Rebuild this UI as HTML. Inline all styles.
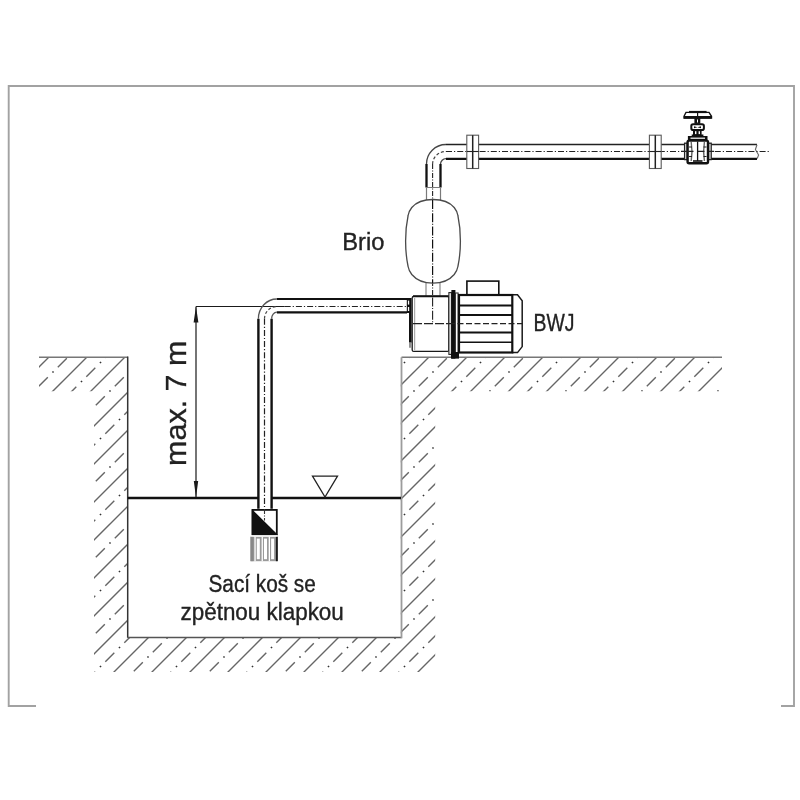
<!DOCTYPE html>
<html><head><meta charset="utf-8"><style>
html,body{margin:0;padding:0;background:#fff;width:800px;height:800px;overflow:hidden}
svg{position:absolute;left:0;top:0;will-change:transform}
.t{position:absolute;font-family:"Liberation Sans",sans-serif;color:#222;white-space:nowrap;line-height:1}
.c{text-align:center}
.rot{transform:translate(-50%,-50%) rotate(-90deg);}
</style></head><body>
<svg width="800" height="800" viewBox="0 0 800 800">
<clipPath id="hc"><rect x="39" y="357.5" width="88.7" height="33.69999999999999"/><rect x="94" y="357.5" width="33.7" height="314.5"/><rect x="94" y="637.7" width="341.2" height="34.299999999999955"/><rect x="400.8" y="357.5" width="34.39999999999998" height="314.5"/><rect x="400.8" y="357.5" width="321.2" height="33.69999999999999"/></clipPath>
<g clip-path="url(#hc)" stroke="#666" fill="none"><path d="M20,310L760,-430M20,348L760,-392M20,386L760,-354M20,424L760,-316M20,462L760,-278M20,500L760,-240M20,538L760,-202M20,576L760,-164M20,614L760,-126M20,652L760,-88M20,690L760,-50M20,728L760,-12M20,766L760,26M20,804L760,64M20,842L760,102M20,880L760,140M20,918L760,178M20,956L760,216M20,994L760,254M20,1032L760,292M20,1070L760,330M20,1108L760,368M20,1146L760,406M20,1184L760,444" stroke-width="1.4"/><path d="M38.80,310.20L47.80,301.20M57.80,291.20L66.80,282.20M76.80,272.20L85.80,263.20M95.80,253.20L104.80,244.20M114.80,234.20L123.80,225.20M133.80,215.20L142.80,206.20M152.80,196.20L161.80,187.20M171.80,177.20L180.80,168.20M190.80,158.20L199.80,149.20M209.80,139.20L218.80,130.20M228.80,120.20L237.80,111.20M247.80,101.20L256.80,92.20M266.80,82.20L275.80,73.20M285.80,63.20L294.80,54.20M304.80,44.20L313.80,35.20M323.80,25.20L332.80,16.20M342.80,6.20L351.80,-2.80M361.80,-12.80L370.80,-21.80M380.80,-31.80L389.80,-40.80M399.80,-50.80L408.80,-59.80M418.80,-69.80L427.80,-78.80M437.80,-88.80L446.80,-97.80M456.80,-107.80L465.80,-116.80M475.80,-126.80L484.80,-135.80M494.80,-145.80L503.80,-154.80M513.80,-164.80L522.80,-173.80M532.80,-183.80L541.80,-192.80M551.80,-202.80L560.80,-211.80M570.80,-221.80L579.80,-230.80M589.80,-240.80L598.80,-249.80M608.80,-259.80L617.80,-268.80M627.80,-278.80L636.80,-287.80M646.80,-297.80L655.80,-306.80M665.80,-316.80L674.80,-325.80M684.80,-335.80L693.80,-344.80M703.80,-354.80L712.80,-363.80M722.80,-373.80L731.80,-382.80M741.80,-392.80L750.80,-401.80M760.80,-411.80L769.80,-420.80M29.30,357.70L38.30,348.70M48.30,338.70L57.30,329.70M67.30,319.70L76.30,310.70M86.30,300.70L95.30,291.70M105.30,281.70L114.30,272.70M124.30,262.70L133.30,253.70M143.30,243.70L152.30,234.70M162.30,224.70L171.30,215.70M181.30,205.70L190.30,196.70M200.30,186.70L209.30,177.70M219.30,167.70L228.30,158.70M238.30,148.70L247.30,139.70M257.30,129.70L266.30,120.70M276.30,110.70L285.30,101.70M295.30,91.70L304.30,82.70M314.30,72.70L323.30,63.70M333.30,53.70L342.30,44.70M352.30,34.70L361.30,25.70M371.30,15.70L380.30,6.70M390.30,-3.30L399.30,-12.30M409.30,-22.30L418.30,-31.30M428.30,-41.30L437.30,-50.30M447.30,-60.30L456.30,-69.30M466.30,-79.30L475.30,-88.30M485.30,-98.30L494.30,-107.30M504.30,-117.30L513.30,-126.30M523.30,-136.30L532.30,-145.30M542.30,-155.30L551.30,-164.30M561.30,-174.30L570.30,-183.30M580.30,-193.30L589.30,-202.30M599.30,-212.30L608.30,-221.30M618.30,-231.30L627.30,-240.30M637.30,-250.30L646.30,-259.30M656.30,-269.30L665.30,-278.30M675.30,-288.30L684.30,-297.30M694.30,-307.30L703.30,-316.30M713.30,-326.30L722.30,-335.30M732.30,-345.30L741.30,-354.30M751.30,-364.30L760.30,-373.30M38.80,386.20L47.80,377.20M57.80,367.20L66.80,358.20M76.80,348.20L85.80,339.20M95.80,329.20L104.80,320.20M114.80,310.20L123.80,301.20M133.80,291.20L142.80,282.20M152.80,272.20L161.80,263.20M171.80,253.20L180.80,244.20M190.80,234.20L199.80,225.20M209.80,215.20L218.80,206.20M228.80,196.20L237.80,187.20M247.80,177.20L256.80,168.20M266.80,158.20L275.80,149.20M285.80,139.20L294.80,130.20M304.80,120.20L313.80,111.20M323.80,101.20L332.80,92.20M342.80,82.20L351.80,73.20M361.80,63.20L370.80,54.20M380.80,44.20L389.80,35.20M399.80,25.20L408.80,16.20M418.80,6.20L427.80,-2.80M437.80,-12.80L446.80,-21.80M456.80,-31.80L465.80,-40.80M475.80,-50.80L484.80,-59.80M494.80,-69.80L503.80,-78.80M513.80,-88.80L522.80,-97.80M532.80,-107.80L541.80,-116.80M551.80,-126.80L560.80,-135.80M570.80,-145.80L579.80,-154.80M589.80,-164.80L598.80,-173.80M608.80,-183.80L617.80,-192.80M627.80,-202.80L636.80,-211.80M646.80,-221.80L655.80,-230.80M665.80,-240.80L674.80,-249.80M684.80,-259.80L693.80,-268.80M703.80,-278.80L712.80,-287.80M722.80,-297.80L731.80,-306.80M741.80,-316.80L750.80,-325.80M760.80,-335.80L769.80,-344.80M29.30,433.70L38.30,424.70M48.30,414.70L57.30,405.70M67.30,395.70L76.30,386.70M86.30,376.70L95.30,367.70M105.30,357.70L114.30,348.70M124.30,338.70L133.30,329.70M143.30,319.70L152.30,310.70M162.30,300.70L171.30,291.70M181.30,281.70L190.30,272.70M200.30,262.70L209.30,253.70M219.30,243.70L228.30,234.70M238.30,224.70L247.30,215.70M257.30,205.70L266.30,196.70M276.30,186.70L285.30,177.70M295.30,167.70L304.30,158.70M314.30,148.70L323.30,139.70M333.30,129.70L342.30,120.70M352.30,110.70L361.30,101.70M371.30,91.70L380.30,82.70M390.30,72.70L399.30,63.70M409.30,53.70L418.30,44.70M428.30,34.70L437.30,25.70M447.30,15.70L456.30,6.70M466.30,-3.30L475.30,-12.30M485.30,-22.30L494.30,-31.30M504.30,-41.30L513.30,-50.30M523.30,-60.30L532.30,-69.30M542.30,-79.30L551.30,-88.30M561.30,-98.30L570.30,-107.30M580.30,-117.30L589.30,-126.30M599.30,-136.30L608.30,-145.30M618.30,-155.30L627.30,-164.30M637.30,-174.30L646.30,-183.30M656.30,-193.30L665.30,-202.30M675.30,-212.30L684.30,-221.30M694.30,-231.30L703.30,-240.30M713.30,-250.30L722.30,-259.30M732.30,-269.30L741.30,-278.30M751.30,-288.30L760.30,-297.30M38.80,462.20L47.80,453.20M57.80,443.20L66.80,434.20M76.80,424.20L85.80,415.20M95.80,405.20L104.80,396.20M114.80,386.20L123.80,377.20M133.80,367.20L142.80,358.20M152.80,348.20L161.80,339.20M171.80,329.20L180.80,320.20M190.80,310.20L199.80,301.20M209.80,291.20L218.80,282.20M228.80,272.20L237.80,263.20M247.80,253.20L256.80,244.20M266.80,234.20L275.80,225.20M285.80,215.20L294.80,206.20M304.80,196.20L313.80,187.20M323.80,177.20L332.80,168.20M342.80,158.20L351.80,149.20M361.80,139.20L370.80,130.20M380.80,120.20L389.80,111.20M399.80,101.20L408.80,92.20M418.80,82.20L427.80,73.20M437.80,63.20L446.80,54.20M456.80,44.20L465.80,35.20M475.80,25.20L484.80,16.20M494.80,6.20L503.80,-2.80M513.80,-12.80L522.80,-21.80M532.80,-31.80L541.80,-40.80M551.80,-50.80L560.80,-59.80M570.80,-69.80L579.80,-78.80M589.80,-88.80L598.80,-97.80M608.80,-107.80L617.80,-116.80M627.80,-126.80L636.80,-135.80M646.80,-145.80L655.80,-154.80M665.80,-164.80L674.80,-173.80M684.80,-183.80L693.80,-192.80M703.80,-202.80L712.80,-211.80M722.80,-221.80L731.80,-230.80M741.80,-240.80L750.80,-249.80M760.80,-259.80L769.80,-268.80M29.30,509.70L38.30,500.70M48.30,490.70L57.30,481.70M67.30,471.70L76.30,462.70M86.30,452.70L95.30,443.70M105.30,433.70L114.30,424.70M124.30,414.70L133.30,405.70M143.30,395.70L152.30,386.70M162.30,376.70L171.30,367.70M181.30,357.70L190.30,348.70M200.30,338.70L209.30,329.70M219.30,319.70L228.30,310.70M238.30,300.70L247.30,291.70M257.30,281.70L266.30,272.70M276.30,262.70L285.30,253.70M295.30,243.70L304.30,234.70M314.30,224.70L323.30,215.70M333.30,205.70L342.30,196.70M352.30,186.70L361.30,177.70M371.30,167.70L380.30,158.70M390.30,148.70L399.30,139.70M409.30,129.70L418.30,120.70M428.30,110.70L437.30,101.70M447.30,91.70L456.30,82.70M466.30,72.70L475.30,63.70M485.30,53.70L494.30,44.70M504.30,34.70L513.30,25.70M523.30,15.70L532.30,6.70M542.30,-3.30L551.30,-12.30M561.30,-22.30L570.30,-31.30M580.30,-41.30L589.30,-50.30M599.30,-60.30L608.30,-69.30M618.30,-79.30L627.30,-88.30M637.30,-98.30L646.30,-107.30M656.30,-117.30L665.30,-126.30M675.30,-136.30L684.30,-145.30M694.30,-155.30L703.30,-164.30M713.30,-174.30L722.30,-183.30M732.30,-193.30L741.30,-202.30M751.30,-212.30L760.30,-221.30M38.80,538.20L47.80,529.20M57.80,519.20L66.80,510.20M76.80,500.20L85.80,491.20M95.80,481.20L104.80,472.20M114.80,462.20L123.80,453.20M133.80,443.20L142.80,434.20M152.80,424.20L161.80,415.20M171.80,405.20L180.80,396.20M190.80,386.20L199.80,377.20M209.80,367.20L218.80,358.20M228.80,348.20L237.80,339.20M247.80,329.20L256.80,320.20M266.80,310.20L275.80,301.20M285.80,291.20L294.80,282.20M304.80,272.20L313.80,263.20M323.80,253.20L332.80,244.20M342.80,234.20L351.80,225.20M361.80,215.20L370.80,206.20M380.80,196.20L389.80,187.20M399.80,177.20L408.80,168.20M418.80,158.20L427.80,149.20M437.80,139.20L446.80,130.20M456.80,120.20L465.80,111.20M475.80,101.20L484.80,92.20M494.80,82.20L503.80,73.20M513.80,63.20L522.80,54.20M532.80,44.20L541.80,35.20M551.80,25.20L560.80,16.20M570.80,6.20L579.80,-2.80M589.80,-12.80L598.80,-21.80M608.80,-31.80L617.80,-40.80M627.80,-50.80L636.80,-59.80M646.80,-69.80L655.80,-78.80M665.80,-88.80L674.80,-97.80M684.80,-107.80L693.80,-116.80M703.80,-126.80L712.80,-135.80M722.80,-145.80L731.80,-154.80M741.80,-164.80L750.80,-173.80M760.80,-183.80L769.80,-192.80M29.30,585.70L38.30,576.70M48.30,566.70L57.30,557.70M67.30,547.70L76.30,538.70M86.30,528.70L95.30,519.70M105.30,509.70L114.30,500.70M124.30,490.70L133.30,481.70M143.30,471.70L152.30,462.70M162.30,452.70L171.30,443.70M181.30,433.70L190.30,424.70M200.30,414.70L209.30,405.70M219.30,395.70L228.30,386.70M238.30,376.70L247.30,367.70M257.30,357.70L266.30,348.70M276.30,338.70L285.30,329.70M295.30,319.70L304.30,310.70M314.30,300.70L323.30,291.70M333.30,281.70L342.30,272.70M352.30,262.70L361.30,253.70M371.30,243.70L380.30,234.70M390.30,224.70L399.30,215.70M409.30,205.70L418.30,196.70M428.30,186.70L437.30,177.70M447.30,167.70L456.30,158.70M466.30,148.70L475.30,139.70M485.30,129.70L494.30,120.70M504.30,110.70L513.30,101.70M523.30,91.70L532.30,82.70M542.30,72.70L551.30,63.70M561.30,53.70L570.30,44.70M580.30,34.70L589.30,25.70M599.30,15.70L608.30,6.70M618.30,-3.30L627.30,-12.30M637.30,-22.30L646.30,-31.30M656.30,-41.30L665.30,-50.30M675.30,-60.30L684.30,-69.30M694.30,-79.30L703.30,-88.30M713.30,-98.30L722.30,-107.30M732.30,-117.30L741.30,-126.30M751.30,-136.30L760.30,-145.30M38.80,614.20L47.80,605.20M57.80,595.20L66.80,586.20M76.80,576.20L85.80,567.20M95.80,557.20L104.80,548.20M114.80,538.20L123.80,529.20M133.80,519.20L142.80,510.20M152.80,500.20L161.80,491.20M171.80,481.20L180.80,472.20M190.80,462.20L199.80,453.20M209.80,443.20L218.80,434.20M228.80,424.20L237.80,415.20M247.80,405.20L256.80,396.20M266.80,386.20L275.80,377.20M285.80,367.20L294.80,358.20M304.80,348.20L313.80,339.20M323.80,329.20L332.80,320.20M342.80,310.20L351.80,301.20M361.80,291.20L370.80,282.20M380.80,272.20L389.80,263.20M399.80,253.20L408.80,244.20M418.80,234.20L427.80,225.20M437.80,215.20L446.80,206.20M456.80,196.20L465.80,187.20M475.80,177.20L484.80,168.20M494.80,158.20L503.80,149.20M513.80,139.20L522.80,130.20M532.80,120.20L541.80,111.20M551.80,101.20L560.80,92.20M570.80,82.20L579.80,73.20M589.80,63.20L598.80,54.20M608.80,44.20L617.80,35.20M627.80,25.20L636.80,16.20M646.80,6.20L655.80,-2.80M665.80,-12.80L674.80,-21.80M684.80,-31.80L693.80,-40.80M703.80,-50.80L712.80,-59.80M722.80,-69.80L731.80,-78.80M741.80,-88.80L750.80,-97.80M760.80,-107.80L769.80,-116.80M29.30,661.70L38.30,652.70M48.30,642.70L57.30,633.70M67.30,623.70L76.30,614.70M86.30,604.70L95.30,595.70M105.30,585.70L114.30,576.70M124.30,566.70L133.30,557.70M143.30,547.70L152.30,538.70M162.30,528.70L171.30,519.70M181.30,509.70L190.30,500.70M200.30,490.70L209.30,481.70M219.30,471.70L228.30,462.70M238.30,452.70L247.30,443.70M257.30,433.70L266.30,424.70M276.30,414.70L285.30,405.70M295.30,395.70L304.30,386.70M314.30,376.70L323.30,367.70M333.30,357.70L342.30,348.70M352.30,338.70L361.30,329.70M371.30,319.70L380.30,310.70M390.30,300.70L399.30,291.70M409.30,281.70L418.30,272.70M428.30,262.70L437.30,253.70M447.30,243.70L456.30,234.70M466.30,224.70L475.30,215.70M485.30,205.70L494.30,196.70M504.30,186.70L513.30,177.70M523.30,167.70L532.30,158.70M542.30,148.70L551.30,139.70M561.30,129.70L570.30,120.70M580.30,110.70L589.30,101.70M599.30,91.70L608.30,82.70M618.30,72.70L627.30,63.70M637.30,53.70L646.30,44.70M656.30,34.70L665.30,25.70M675.30,15.70L684.30,6.70M694.30,-3.30L703.30,-12.30M713.30,-22.30L722.30,-31.30M732.30,-41.30L741.30,-50.30M751.30,-60.30L760.30,-69.30M38.80,690.20L47.80,681.20M57.80,671.20L66.80,662.20M76.80,652.20L85.80,643.20M95.80,633.20L104.80,624.20M114.80,614.20L123.80,605.20M133.80,595.20L142.80,586.20M152.80,576.20L161.80,567.20M171.80,557.20L180.80,548.20M190.80,538.20L199.80,529.20M209.80,519.20L218.80,510.20M228.80,500.20L237.80,491.20M247.80,481.20L256.80,472.20M266.80,462.20L275.80,453.20M285.80,443.20L294.80,434.20M304.80,424.20L313.80,415.20M323.80,405.20L332.80,396.20M342.80,386.20L351.80,377.20M361.80,367.20L370.80,358.20M380.80,348.20L389.80,339.20M399.80,329.20L408.80,320.20M418.80,310.20L427.80,301.20M437.80,291.20L446.80,282.20M456.80,272.20L465.80,263.20M475.80,253.20L484.80,244.20M494.80,234.20L503.80,225.20M513.80,215.20L522.80,206.20M532.80,196.20L541.80,187.20M551.80,177.20L560.80,168.20M570.80,158.20L579.80,149.20M589.80,139.20L598.80,130.20M608.80,120.20L617.80,111.20M627.80,101.20L636.80,92.20M646.80,82.20L655.80,73.20M665.80,63.20L674.80,54.20M684.80,44.20L693.80,35.20M703.80,25.20L712.80,16.20M722.80,6.20L731.80,-2.80M741.80,-12.80L750.80,-21.80M760.80,-31.80L769.80,-40.80M29.30,737.70L38.30,728.70M48.30,718.70L57.30,709.70M67.30,699.70L76.30,690.70M86.30,680.70L95.30,671.70M105.30,661.70L114.30,652.70M124.30,642.70L133.30,633.70M143.30,623.70L152.30,614.70M162.30,604.70L171.30,595.70M181.30,585.70L190.30,576.70M200.30,566.70L209.30,557.70M219.30,547.70L228.30,538.70M238.30,528.70L247.30,519.70M257.30,509.70L266.30,500.70M276.30,490.70L285.30,481.70M295.30,471.70L304.30,462.70M314.30,452.70L323.30,443.70M333.30,433.70L342.30,424.70M352.30,414.70L361.30,405.70M371.30,395.70L380.30,386.70M390.30,376.70L399.30,367.70M409.30,357.70L418.30,348.70M428.30,338.70L437.30,329.70M447.30,319.70L456.30,310.70M466.30,300.70L475.30,291.70M485.30,281.70L494.30,272.70M504.30,262.70L513.30,253.70M523.30,243.70L532.30,234.70M542.30,224.70L551.30,215.70M561.30,205.70L570.30,196.70M580.30,186.70L589.30,177.70M599.30,167.70L608.30,158.70M618.30,148.70L627.30,139.70M637.30,129.70L646.30,120.70M656.30,110.70L665.30,101.70M675.30,91.70L684.30,82.70M694.30,72.70L703.30,63.70M713.30,53.70L722.30,44.70M732.30,34.70L741.30,25.70M751.30,15.70L760.30,6.70M38.80,766.20L47.80,757.20M57.80,747.20L66.80,738.20M76.80,728.20L85.80,719.20M95.80,709.20L104.80,700.20M114.80,690.20L123.80,681.20M133.80,671.20L142.80,662.20M152.80,652.20L161.80,643.20M171.80,633.20L180.80,624.20M190.80,614.20L199.80,605.20M209.80,595.20L218.80,586.20M228.80,576.20L237.80,567.20M247.80,557.20L256.80,548.20M266.80,538.20L275.80,529.20M285.80,519.20L294.80,510.20M304.80,500.20L313.80,491.20M323.80,481.20L332.80,472.20M342.80,462.20L351.80,453.20M361.80,443.20L370.80,434.20M380.80,424.20L389.80,415.20M399.80,405.20L408.80,396.20M418.80,386.20L427.80,377.20M437.80,367.20L446.80,358.20M456.80,348.20L465.80,339.20M475.80,329.20L484.80,320.20M494.80,310.20L503.80,301.20M513.80,291.20L522.80,282.20M532.80,272.20L541.80,263.20M551.80,253.20L560.80,244.20M570.80,234.20L579.80,225.20M589.80,215.20L598.80,206.20M608.80,196.20L617.80,187.20M627.80,177.20L636.80,168.20M646.80,158.20L655.80,149.20M665.80,139.20L674.80,130.20M684.80,120.20L693.80,111.20M703.80,101.20L712.80,92.20M722.80,82.20L731.80,73.20M741.80,63.20L750.80,54.20M760.80,44.20L769.80,35.20M29.30,813.70L38.30,804.70M48.30,794.70L57.30,785.70M67.30,775.70L76.30,766.70M86.30,756.70L95.30,747.70M105.30,737.70L114.30,728.70M124.30,718.70L133.30,709.70M143.30,699.70L152.30,690.70M162.30,680.70L171.30,671.70M181.30,661.70L190.30,652.70M200.30,642.70L209.30,633.70M219.30,623.70L228.30,614.70M238.30,604.70L247.30,595.70M257.30,585.70L266.30,576.70M276.30,566.70L285.30,557.70M295.30,547.70L304.30,538.70M314.30,528.70L323.30,519.70M333.30,509.70L342.30,500.70M352.30,490.70L361.30,481.70M371.30,471.70L380.30,462.70M390.30,452.70L399.30,443.70M409.30,433.70L418.30,424.70M428.30,414.70L437.30,405.70M447.30,395.70L456.30,386.70M466.30,376.70L475.30,367.70M485.30,357.70L494.30,348.70M504.30,338.70L513.30,329.70M523.30,319.70L532.30,310.70M542.30,300.70L551.30,291.70M561.30,281.70L570.30,272.70M580.30,262.70L589.30,253.70M599.30,243.70L608.30,234.70M618.30,224.70L627.30,215.70M637.30,205.70L646.30,196.70M656.30,186.70L665.30,177.70M675.30,167.70L684.30,158.70M694.30,148.70L703.30,139.70M713.30,129.70L722.30,120.70M732.30,110.70L741.30,101.70M751.30,91.70L760.30,82.70M38.80,842.20L47.80,833.20M57.80,823.20L66.80,814.20M76.80,804.20L85.80,795.20M95.80,785.20L104.80,776.20M114.80,766.20L123.80,757.20M133.80,747.20L142.80,738.20M152.80,728.20L161.80,719.20M171.80,709.20L180.80,700.20M190.80,690.20L199.80,681.20M209.80,671.20L218.80,662.20M228.80,652.20L237.80,643.20M247.80,633.20L256.80,624.20M266.80,614.20L275.80,605.20M285.80,595.20L294.80,586.20M304.80,576.20L313.80,567.20M323.80,557.20L332.80,548.20M342.80,538.20L351.80,529.20M361.80,519.20L370.80,510.20M380.80,500.20L389.80,491.20M399.80,481.20L408.80,472.20M418.80,462.20L427.80,453.20M437.80,443.20L446.80,434.20M456.80,424.20L465.80,415.20M475.80,405.20L484.80,396.20M494.80,386.20L503.80,377.20M513.80,367.20L522.80,358.20M532.80,348.20L541.80,339.20M551.80,329.20L560.80,320.20M570.80,310.20L579.80,301.20M589.80,291.20L598.80,282.20M608.80,272.20L617.80,263.20M627.80,253.20L636.80,244.20M646.80,234.20L655.80,225.20M665.80,215.20L674.80,206.20M684.80,196.20L693.80,187.20M703.80,177.20L712.80,168.20M722.80,158.20L731.80,149.20M741.80,139.20L750.80,130.20M760.80,120.20L769.80,111.20M29.30,889.70L38.30,880.70M48.30,870.70L57.30,861.70M67.30,851.70L76.30,842.70M86.30,832.70L95.30,823.70M105.30,813.70L114.30,804.70M124.30,794.70L133.30,785.70M143.30,775.70L152.30,766.70M162.30,756.70L171.30,747.70M181.30,737.70L190.30,728.70M200.30,718.70L209.30,709.70M219.30,699.70L228.30,690.70M238.30,680.70L247.30,671.70M257.30,661.70L266.30,652.70M276.30,642.70L285.30,633.70M295.30,623.70L304.30,614.70M314.30,604.70L323.30,595.70M333.30,585.70L342.30,576.70M352.30,566.70L361.30,557.70M371.30,547.70L380.30,538.70M390.30,528.70L399.30,519.70M409.30,509.70L418.30,500.70M428.30,490.70L437.30,481.70M447.30,471.70L456.30,462.70M466.30,452.70L475.30,443.70M485.30,433.70L494.30,424.70M504.30,414.70L513.30,405.70M523.30,395.70L532.30,386.70M542.30,376.70L551.30,367.70M561.30,357.70L570.30,348.70M580.30,338.70L589.30,329.70M599.30,319.70L608.30,310.70M618.30,300.70L627.30,291.70M637.30,281.70L646.30,272.70M656.30,262.70L665.30,253.70M675.30,243.70L684.30,234.70M694.30,224.70L703.30,215.70M713.30,205.70L722.30,196.70M732.30,186.70L741.30,177.70M751.30,167.70L760.30,158.70M38.80,918.20L47.80,909.20M57.80,899.20L66.80,890.20M76.80,880.20L85.80,871.20M95.80,861.20L104.80,852.20M114.80,842.20L123.80,833.20M133.80,823.20L142.80,814.20M152.80,804.20L161.80,795.20M171.80,785.20L180.80,776.20M190.80,766.20L199.80,757.20M209.80,747.20L218.80,738.20M228.80,728.20L237.80,719.20M247.80,709.20L256.80,700.20M266.80,690.20L275.80,681.20M285.80,671.20L294.80,662.20M304.80,652.20L313.80,643.20M323.80,633.20L332.80,624.20M342.80,614.20L351.80,605.20M361.80,595.20L370.80,586.20M380.80,576.20L389.80,567.20M399.80,557.20L408.80,548.20M418.80,538.20L427.80,529.20M437.80,519.20L446.80,510.20M456.80,500.20L465.80,491.20M475.80,481.20L484.80,472.20M494.80,462.20L503.80,453.20M513.80,443.20L522.80,434.20M532.80,424.20L541.80,415.20M551.80,405.20L560.80,396.20M570.80,386.20L579.80,377.20M589.80,367.20L598.80,358.20M608.80,348.20L617.80,339.20M627.80,329.20L636.80,320.20M646.80,310.20L655.80,301.20M665.80,291.20L674.80,282.20M684.80,272.20L693.80,263.20M703.80,253.20L712.80,244.20M722.80,234.20L731.80,225.20M741.80,215.20L750.80,206.20M760.80,196.20L769.80,187.20M29.30,965.70L38.30,956.70M48.30,946.70L57.30,937.70M67.30,927.70L76.30,918.70M86.30,908.70L95.30,899.70M105.30,889.70L114.30,880.70M124.30,870.70L133.30,861.70M143.30,851.70L152.30,842.70M162.30,832.70L171.30,823.70M181.30,813.70L190.30,804.70M200.30,794.70L209.30,785.70M219.30,775.70L228.30,766.70M238.30,756.70L247.30,747.70M257.30,737.70L266.30,728.70M276.30,718.70L285.30,709.70M295.30,699.70L304.30,690.70M314.30,680.70L323.30,671.70M333.30,661.70L342.30,652.70M352.30,642.70L361.30,633.70M371.30,623.70L380.30,614.70M390.30,604.70L399.30,595.70M409.30,585.70L418.30,576.70M428.30,566.70L437.30,557.70M447.30,547.70L456.30,538.70M466.30,528.70L475.30,519.70M485.30,509.70L494.30,500.70M504.30,490.70L513.30,481.70M523.30,471.70L532.30,462.70M542.30,452.70L551.30,443.70M561.30,433.70L570.30,424.70M580.30,414.70L589.30,405.70M599.30,395.70L608.30,386.70M618.30,376.70L627.30,367.70M637.30,357.70L646.30,348.70M656.30,338.70L665.30,329.70M675.30,319.70L684.30,310.70M694.30,300.70L703.30,291.70M713.30,281.70L722.30,272.70M732.30,262.70L741.30,253.70M751.30,243.70L760.30,234.70M38.80,994.20L47.80,985.20M57.80,975.20L66.80,966.20M76.80,956.20L85.80,947.20M95.80,937.20L104.80,928.20M114.80,918.20L123.80,909.20M133.80,899.20L142.80,890.20M152.80,880.20L161.80,871.20M171.80,861.20L180.80,852.20M190.80,842.20L199.80,833.20M209.80,823.20L218.80,814.20M228.80,804.20L237.80,795.20M247.80,785.20L256.80,776.20M266.80,766.20L275.80,757.20M285.80,747.20L294.80,738.20M304.80,728.20L313.80,719.20M323.80,709.20L332.80,700.20M342.80,690.20L351.80,681.20M361.80,671.20L370.80,662.20M380.80,652.20L389.80,643.20M399.80,633.20L408.80,624.20M418.80,614.20L427.80,605.20M437.80,595.20L446.80,586.20M456.80,576.20L465.80,567.20M475.80,557.20L484.80,548.20M494.80,538.20L503.80,529.20M513.80,519.20L522.80,510.20M532.80,500.20L541.80,491.20M551.80,481.20L560.80,472.20M570.80,462.20L579.80,453.20M589.80,443.20L598.80,434.20M608.80,424.20L617.80,415.20M627.80,405.20L636.80,396.20M646.80,386.20L655.80,377.20M665.80,367.20L674.80,358.20M684.80,348.20L693.80,339.20M703.80,329.20L712.80,320.20M722.80,310.20L731.80,301.20M741.80,291.20L750.80,282.20M760.80,272.20L769.80,263.20M29.30,1041.70L38.30,1032.70M48.30,1022.70L57.30,1013.70M67.30,1003.70L76.30,994.70M86.30,984.70L95.30,975.70M105.30,965.70L114.30,956.70M124.30,946.70L133.30,937.70M143.30,927.70L152.30,918.70M162.30,908.70L171.30,899.70M181.30,889.70L190.30,880.70M200.30,870.70L209.30,861.70M219.30,851.70L228.30,842.70M238.30,832.70L247.30,823.70M257.30,813.70L266.30,804.70M276.30,794.70L285.30,785.70M295.30,775.70L304.30,766.70M314.30,756.70L323.30,747.70M333.30,737.70L342.30,728.70M352.30,718.70L361.30,709.70M371.30,699.70L380.30,690.70M390.30,680.70L399.30,671.70M409.30,661.70L418.30,652.70M428.30,642.70L437.30,633.70M447.30,623.70L456.30,614.70M466.30,604.70L475.30,595.70M485.30,585.70L494.30,576.70M504.30,566.70L513.30,557.70M523.30,547.70L532.30,538.70M542.30,528.70L551.30,519.70M561.30,509.70L570.30,500.70M580.30,490.70L589.30,481.70M599.30,471.70L608.30,462.70M618.30,452.70L627.30,443.70M637.30,433.70L646.30,424.70M656.30,414.70L665.30,405.70M675.30,395.70L684.30,386.70M694.30,376.70L703.30,367.70M713.30,357.70L722.30,348.70M732.30,338.70L741.30,329.70M751.30,319.70L760.30,310.70M38.80,1070.20L47.80,1061.20M57.80,1051.20L66.80,1042.20M76.80,1032.20L85.80,1023.20M95.80,1013.20L104.80,1004.20M114.80,994.20L123.80,985.20M133.80,975.20L142.80,966.20M152.80,956.20L161.80,947.20M171.80,937.20L180.80,928.20M190.80,918.20L199.80,909.20M209.80,899.20L218.80,890.20M228.80,880.20L237.80,871.20M247.80,861.20L256.80,852.20M266.80,842.20L275.80,833.20M285.80,823.20L294.80,814.20M304.80,804.20L313.80,795.20M323.80,785.20L332.80,776.20M342.80,766.20L351.80,757.20M361.80,747.20L370.80,738.20M380.80,728.20L389.80,719.20M399.80,709.20L408.80,700.20M418.80,690.20L427.80,681.20M437.80,671.20L446.80,662.20M456.80,652.20L465.80,643.20M475.80,633.20L484.80,624.20M494.80,614.20L503.80,605.20M513.80,595.20L522.80,586.20M532.80,576.20L541.80,567.20M551.80,557.20L560.80,548.20M570.80,538.20L579.80,529.20M589.80,519.20L598.80,510.20M608.80,500.20L617.80,491.20M627.80,481.20L636.80,472.20M646.80,462.20L655.80,453.20M665.80,443.20L674.80,434.20M684.80,424.20L693.80,415.20M703.80,405.20L712.80,396.20M722.80,386.20L731.80,377.20M741.80,367.20L750.80,358.20M760.80,348.20L769.80,339.20M29.30,1117.70L38.30,1108.70M48.30,1098.70L57.30,1089.70M67.30,1079.70L76.30,1070.70M86.30,1060.70L95.30,1051.70M105.30,1041.70L114.30,1032.70M124.30,1022.70L133.30,1013.70M143.30,1003.70L152.30,994.70M162.30,984.70L171.30,975.70M181.30,965.70L190.30,956.70M200.30,946.70L209.30,937.70M219.30,927.70L228.30,918.70M238.30,908.70L247.30,899.70M257.30,889.70L266.30,880.70M276.30,870.70L285.30,861.70M295.30,851.70L304.30,842.70M314.30,832.70L323.30,823.70M333.30,813.70L342.30,804.70M352.30,794.70L361.30,785.70M371.30,775.70L380.30,766.70M390.30,756.70L399.30,747.70M409.30,737.70L418.30,728.70M428.30,718.70L437.30,709.70M447.30,699.70L456.30,690.70M466.30,680.70L475.30,671.70M485.30,661.70L494.30,652.70M504.30,642.70L513.30,633.70M523.30,623.70L532.30,614.70M542.30,604.70L551.30,595.70M561.30,585.70L570.30,576.70M580.30,566.70L589.30,557.70M599.30,547.70L608.30,538.70M618.30,528.70L627.30,519.70M637.30,509.70L646.30,500.70M656.30,490.70L665.30,481.70M675.30,471.70L684.30,462.70M694.30,452.70L703.30,443.70M713.30,433.70L722.30,424.70M732.30,414.70L741.30,405.70M751.30,395.70L760.30,386.70M38.80,1146.20L47.80,1137.20M57.80,1127.20L66.80,1118.20M76.80,1108.20L85.80,1099.20M95.80,1089.20L104.80,1080.20M114.80,1070.20L123.80,1061.20M133.80,1051.20L142.80,1042.20M152.80,1032.20L161.80,1023.20M171.80,1013.20L180.80,1004.20M190.80,994.20L199.80,985.20M209.80,975.20L218.80,966.20M228.80,956.20L237.80,947.20M247.80,937.20L256.80,928.20M266.80,918.20L275.80,909.20M285.80,899.20L294.80,890.20M304.80,880.20L313.80,871.20M323.80,861.20L332.80,852.20M342.80,842.20L351.80,833.20M361.80,823.20L370.80,814.20M380.80,804.20L389.80,795.20M399.80,785.20L408.80,776.20M418.80,766.20L427.80,757.20M437.80,747.20L446.80,738.20M456.80,728.20L465.80,719.20M475.80,709.20L484.80,700.20M494.80,690.20L503.80,681.20M513.80,671.20L522.80,662.20M532.80,652.20L541.80,643.20M551.80,633.20L560.80,624.20M570.80,614.20L579.80,605.20M589.80,595.20L598.80,586.20M608.80,576.20L617.80,567.20M627.80,557.20L636.80,548.20M646.80,538.20L655.80,529.20M665.80,519.20L674.80,510.20M684.80,500.20L693.80,491.20M703.80,481.20L712.80,472.20M722.80,462.20L731.80,453.20M741.80,443.20L750.80,434.20M760.80,424.20L769.80,415.20M29.30,1193.70L38.30,1184.70M48.30,1174.70L57.30,1165.70M67.30,1155.70L76.30,1146.70M86.30,1136.70L95.30,1127.70M105.30,1117.70L114.30,1108.70M124.30,1098.70L133.30,1089.70M143.30,1079.70L152.30,1070.70M162.30,1060.70L171.30,1051.70M181.30,1041.70L190.30,1032.70M200.30,1022.70L209.30,1013.70M219.30,1003.70L228.30,994.70M238.30,984.70L247.30,975.70M257.30,965.70L266.30,956.70M276.30,946.70L285.30,937.70M295.30,927.70L304.30,918.70M314.30,908.70L323.30,899.70M333.30,889.70L342.30,880.70M352.30,870.70L361.30,861.70M371.30,851.70L380.30,842.70M390.30,832.70L399.30,823.70M409.30,813.70L418.30,804.70M428.30,794.70L437.30,785.70M447.30,775.70L456.30,766.70M466.30,756.70L475.30,747.70M485.30,737.70L494.30,728.70M504.30,718.70L513.30,709.70M523.30,699.70L532.30,690.70M542.30,680.70L551.30,671.70M561.30,661.70L570.30,652.70M580.30,642.70L589.30,633.70M599.30,623.70L608.30,614.70M618.30,604.70L627.30,595.70M637.30,585.70L646.30,576.70M656.30,566.70L665.30,557.70M675.30,547.70L684.30,538.70M694.30,528.70L703.30,519.70M713.30,509.70L722.30,500.70M732.30,490.70L741.30,481.70M751.30,471.70L760.30,462.70" stroke-width="1.4"/><path d="M33.45,315.55L34.55,314.45M52.45,296.55L53.55,295.45M71.45,277.55L72.55,276.45M90.45,258.55L91.55,257.45M109.45,239.55L110.55,238.45M128.45,220.55L129.55,219.45M147.45,201.55L148.55,200.45M166.45,182.55L167.55,181.45M185.45,163.55L186.55,162.45M204.45,144.55L205.55,143.45M223.45,125.55L224.55,124.45M242.45,106.55L243.55,105.45M261.45,87.55L262.55,86.45M280.45,68.55L281.55,67.45M299.45,49.55L300.55,48.45M318.45,30.55L319.55,29.45M337.45,11.55L338.55,10.45M356.45,-7.45L357.55,-8.55M375.45,-26.45L376.55,-27.55M394.45,-45.45L395.55,-46.55M413.45,-64.45L414.55,-65.55M432.45,-83.45L433.55,-84.55M451.45,-102.45L452.55,-103.55M470.45,-121.45L471.55,-122.55M489.45,-140.45L490.55,-141.55M508.45,-159.45L509.55,-160.55M527.45,-178.45L528.55,-179.55M546.45,-197.45L547.55,-198.55M565.45,-216.45L566.55,-217.55M584.45,-235.45L585.55,-236.55M603.45,-254.45L604.55,-255.55M622.45,-273.45L623.55,-274.55M641.45,-292.45L642.55,-293.55M660.45,-311.45L661.55,-312.55M679.45,-330.45L680.55,-331.55M698.45,-349.45L699.55,-350.55M717.45,-368.45L718.55,-369.55M736.45,-387.45L737.55,-388.55M755.45,-406.45L756.55,-407.55M23.95,363.05L25.05,361.95M42.95,344.05L44.05,342.95M61.95,325.05L63.05,323.95M80.95,306.05L82.05,304.95M99.95,287.05L101.05,285.95M118.95,268.05L120.05,266.95M137.95,249.05L139.05,247.95M156.95,230.05L158.05,228.95M175.95,211.05L177.05,209.95M194.95,192.05L196.05,190.95M213.95,173.05L215.05,171.95M232.95,154.05L234.05,152.95M251.95,135.05L253.05,133.95M270.95,116.05L272.05,114.95M289.95,97.05L291.05,95.95M308.95,78.05L310.05,76.95M327.95,59.05L329.05,57.95M346.95,40.05L348.05,38.95M365.95,21.05L367.05,19.95M384.95,2.05L386.05,0.95M403.95,-16.95L405.05,-18.05M422.95,-35.95L424.05,-37.05M441.95,-54.95L443.05,-56.05M460.95,-73.95L462.05,-75.05M479.95,-92.95L481.05,-94.05M498.95,-111.95L500.05,-113.05M517.95,-130.95L519.05,-132.05M536.95,-149.95L538.05,-151.05M555.95,-168.95L557.05,-170.05M574.95,-187.95L576.05,-189.05M593.95,-206.95L595.05,-208.05M612.95,-225.95L614.05,-227.05M631.95,-244.95L633.05,-246.05M650.95,-263.95L652.05,-265.05M669.95,-282.95L671.05,-284.05M688.95,-301.95L690.05,-303.05M707.95,-320.95L709.05,-322.05M726.95,-339.95L728.05,-341.05M745.95,-358.95L747.05,-360.05M33.45,391.55L34.55,390.45M52.45,372.55L53.55,371.45M71.45,353.55L72.55,352.45M90.45,334.55L91.55,333.45M109.45,315.55L110.55,314.45M128.45,296.55L129.55,295.45M147.45,277.55L148.55,276.45M166.45,258.55L167.55,257.45M185.45,239.55L186.55,238.45M204.45,220.55L205.55,219.45M223.45,201.55L224.55,200.45M242.45,182.55L243.55,181.45M261.45,163.55L262.55,162.45M280.45,144.55L281.55,143.45M299.45,125.55L300.55,124.45M318.45,106.55L319.55,105.45M337.45,87.55L338.55,86.45M356.45,68.55L357.55,67.45M375.45,49.55L376.55,48.45M394.45,30.55L395.55,29.45M413.45,11.55L414.55,10.45M432.45,-7.45L433.55,-8.55M451.45,-26.45L452.55,-27.55M470.45,-45.45L471.55,-46.55M489.45,-64.45L490.55,-65.55M508.45,-83.45L509.55,-84.55M527.45,-102.45L528.55,-103.55M546.45,-121.45L547.55,-122.55M565.45,-140.45L566.55,-141.55M584.45,-159.45L585.55,-160.55M603.45,-178.45L604.55,-179.55M622.45,-197.45L623.55,-198.55M641.45,-216.45L642.55,-217.55M660.45,-235.45L661.55,-236.55M679.45,-254.45L680.55,-255.55M698.45,-273.45L699.55,-274.55M717.45,-292.45L718.55,-293.55M736.45,-311.45L737.55,-312.55M755.45,-330.45L756.55,-331.55M23.95,439.05L25.05,437.95M42.95,420.05L44.05,418.95M61.95,401.05L63.05,399.95M80.95,382.05L82.05,380.95M99.95,363.05L101.05,361.95M118.95,344.05L120.05,342.95M137.95,325.05L139.05,323.95M156.95,306.05L158.05,304.95M175.95,287.05L177.05,285.95M194.95,268.05L196.05,266.95M213.95,249.05L215.05,247.95M232.95,230.05L234.05,228.95M251.95,211.05L253.05,209.95M270.95,192.05L272.05,190.95M289.95,173.05L291.05,171.95M308.95,154.05L310.05,152.95M327.95,135.05L329.05,133.95M346.95,116.05L348.05,114.95M365.95,97.05L367.05,95.95M384.95,78.05L386.05,76.95M403.95,59.05L405.05,57.95M422.95,40.05L424.05,38.95M441.95,21.05L443.05,19.95M460.95,2.05L462.05,0.95M479.95,-16.95L481.05,-18.05M498.95,-35.95L500.05,-37.05M517.95,-54.95L519.05,-56.05M536.95,-73.95L538.05,-75.05M555.95,-92.95L557.05,-94.05M574.95,-111.95L576.05,-113.05M593.95,-130.95L595.05,-132.05M612.95,-149.95L614.05,-151.05M631.95,-168.95L633.05,-170.05M650.95,-187.95L652.05,-189.05M669.95,-206.95L671.05,-208.05M688.95,-225.95L690.05,-227.05M707.95,-244.95L709.05,-246.05M726.95,-263.95L728.05,-265.05M745.95,-282.95L747.05,-284.05M33.45,467.55L34.55,466.45M52.45,448.55L53.55,447.45M71.45,429.55L72.55,428.45M90.45,410.55L91.55,409.45M109.45,391.55L110.55,390.45M128.45,372.55L129.55,371.45M147.45,353.55L148.55,352.45M166.45,334.55L167.55,333.45M185.45,315.55L186.55,314.45M204.45,296.55L205.55,295.45M223.45,277.55L224.55,276.45M242.45,258.55L243.55,257.45M261.45,239.55L262.55,238.45M280.45,220.55L281.55,219.45M299.45,201.55L300.55,200.45M318.45,182.55L319.55,181.45M337.45,163.55L338.55,162.45M356.45,144.55L357.55,143.45M375.45,125.55L376.55,124.45M394.45,106.55L395.55,105.45M413.45,87.55L414.55,86.45M432.45,68.55L433.55,67.45M451.45,49.55L452.55,48.45M470.45,30.55L471.55,29.45M489.45,11.55L490.55,10.45M508.45,-7.45L509.55,-8.55M527.45,-26.45L528.55,-27.55M546.45,-45.45L547.55,-46.55M565.45,-64.45L566.55,-65.55M584.45,-83.45L585.55,-84.55M603.45,-102.45L604.55,-103.55M622.45,-121.45L623.55,-122.55M641.45,-140.45L642.55,-141.55M660.45,-159.45L661.55,-160.55M679.45,-178.45L680.55,-179.55M698.45,-197.45L699.55,-198.55M717.45,-216.45L718.55,-217.55M736.45,-235.45L737.55,-236.55M755.45,-254.45L756.55,-255.55M23.95,515.05L25.05,513.95M42.95,496.05L44.05,494.95M61.95,477.05L63.05,475.95M80.95,458.05L82.05,456.95M99.95,439.05L101.05,437.95M118.95,420.05L120.05,418.95M137.95,401.05L139.05,399.95M156.95,382.05L158.05,380.95M175.95,363.05L177.05,361.95M194.95,344.05L196.05,342.95M213.95,325.05L215.05,323.95M232.95,306.05L234.05,304.95M251.95,287.05L253.05,285.95M270.95,268.05L272.05,266.95M289.95,249.05L291.05,247.95M308.95,230.05L310.05,228.95M327.95,211.05L329.05,209.95M346.95,192.05L348.05,190.95M365.95,173.05L367.05,171.95M384.95,154.05L386.05,152.95M403.95,135.05L405.05,133.95M422.95,116.05L424.05,114.95M441.95,97.05L443.05,95.95M460.95,78.05L462.05,76.95M479.95,59.05L481.05,57.95M498.95,40.05L500.05,38.95M517.95,21.05L519.05,19.95M536.95,2.05L538.05,0.95M555.95,-16.95L557.05,-18.05M574.95,-35.95L576.05,-37.05M593.95,-54.95L595.05,-56.05M612.95,-73.95L614.05,-75.05M631.95,-92.95L633.05,-94.05M650.95,-111.95L652.05,-113.05M669.95,-130.95L671.05,-132.05M688.95,-149.95L690.05,-151.05M707.95,-168.95L709.05,-170.05M726.95,-187.95L728.05,-189.05M745.95,-206.95L747.05,-208.05M33.45,543.55L34.55,542.45M52.45,524.55L53.55,523.45M71.45,505.55L72.55,504.45M90.45,486.55L91.55,485.45M109.45,467.55L110.55,466.45M128.45,448.55L129.55,447.45M147.45,429.55L148.55,428.45M166.45,410.55L167.55,409.45M185.45,391.55L186.55,390.45M204.45,372.55L205.55,371.45M223.45,353.55L224.55,352.45M242.45,334.55L243.55,333.45M261.45,315.55L262.55,314.45M280.45,296.55L281.55,295.45M299.45,277.55L300.55,276.45M318.45,258.55L319.55,257.45M337.45,239.55L338.55,238.45M356.45,220.55L357.55,219.45M375.45,201.55L376.55,200.45M394.45,182.55L395.55,181.45M413.45,163.55L414.55,162.45M432.45,144.55L433.55,143.45M451.45,125.55L452.55,124.45M470.45,106.55L471.55,105.45M489.45,87.55L490.55,86.45M508.45,68.55L509.55,67.45M527.45,49.55L528.55,48.45M546.45,30.55L547.55,29.45M565.45,11.55L566.55,10.45M584.45,-7.45L585.55,-8.55M603.45,-26.45L604.55,-27.55M622.45,-45.45L623.55,-46.55M641.45,-64.45L642.55,-65.55M660.45,-83.45L661.55,-84.55M679.45,-102.45L680.55,-103.55M698.45,-121.45L699.55,-122.55M717.45,-140.45L718.55,-141.55M736.45,-159.45L737.55,-160.55M755.45,-178.45L756.55,-179.55M23.95,591.05L25.05,589.95M42.95,572.05L44.05,570.95M61.95,553.05L63.05,551.95M80.95,534.05L82.05,532.95M99.95,515.05L101.05,513.95M118.95,496.05L120.05,494.95M137.95,477.05L139.05,475.95M156.95,458.05L158.05,456.95M175.95,439.05L177.05,437.95M194.95,420.05L196.05,418.95M213.95,401.05L215.05,399.95M232.95,382.05L234.05,380.95M251.95,363.05L253.05,361.95M270.95,344.05L272.05,342.95M289.95,325.05L291.05,323.95M308.95,306.05L310.05,304.95M327.95,287.05L329.05,285.95M346.95,268.05L348.05,266.95M365.95,249.05L367.05,247.95M384.95,230.05L386.05,228.95M403.95,211.05L405.05,209.95M422.95,192.05L424.05,190.95M441.95,173.05L443.05,171.95M460.95,154.05L462.05,152.95M479.95,135.05L481.05,133.95M498.95,116.05L500.05,114.95M517.95,97.05L519.05,95.95M536.95,78.05L538.05,76.95M555.95,59.05L557.05,57.95M574.95,40.05L576.05,38.95M593.95,21.05L595.05,19.95M612.95,2.05L614.05,0.95M631.95,-16.95L633.05,-18.05M650.95,-35.95L652.05,-37.05M669.95,-54.95L671.05,-56.05M688.95,-73.95L690.05,-75.05M707.95,-92.95L709.05,-94.05M726.95,-111.95L728.05,-113.05M745.95,-130.95L747.05,-132.05M33.45,619.55L34.55,618.45M52.45,600.55L53.55,599.45M71.45,581.55L72.55,580.45M90.45,562.55L91.55,561.45M109.45,543.55L110.55,542.45M128.45,524.55L129.55,523.45M147.45,505.55L148.55,504.45M166.45,486.55L167.55,485.45M185.45,467.55L186.55,466.45M204.45,448.55L205.55,447.45M223.45,429.55L224.55,428.45M242.45,410.55L243.55,409.45M261.45,391.55L262.55,390.45M280.45,372.55L281.55,371.45M299.45,353.55L300.55,352.45M318.45,334.55L319.55,333.45M337.45,315.55L338.55,314.45M356.45,296.55L357.55,295.45M375.45,277.55L376.55,276.45M394.45,258.55L395.55,257.45M413.45,239.55L414.55,238.45M432.45,220.55L433.55,219.45M451.45,201.55L452.55,200.45M470.45,182.55L471.55,181.45M489.45,163.55L490.55,162.45M508.45,144.55L509.55,143.45M527.45,125.55L528.55,124.45M546.45,106.55L547.55,105.45M565.45,87.55L566.55,86.45M584.45,68.55L585.55,67.45M603.45,49.55L604.55,48.45M622.45,30.55L623.55,29.45M641.45,11.55L642.55,10.45M660.45,-7.45L661.55,-8.55M679.45,-26.45L680.55,-27.55M698.45,-45.45L699.55,-46.55M717.45,-64.45L718.55,-65.55M736.45,-83.45L737.55,-84.55M755.45,-102.45L756.55,-103.55M23.95,667.05L25.05,665.95M42.95,648.05L44.05,646.95M61.95,629.05L63.05,627.95M80.95,610.05L82.05,608.95M99.95,591.05L101.05,589.95M118.95,572.05L120.05,570.95M137.95,553.05L139.05,551.95M156.95,534.05L158.05,532.95M175.95,515.05L177.05,513.95M194.95,496.05L196.05,494.95M213.95,477.05L215.05,475.95M232.95,458.05L234.05,456.95M251.95,439.05L253.05,437.95M270.95,420.05L272.05,418.95M289.95,401.05L291.05,399.95M308.95,382.05L310.05,380.95M327.95,363.05L329.05,361.95M346.95,344.05L348.05,342.95M365.95,325.05L367.05,323.95M384.95,306.05L386.05,304.95M403.95,287.05L405.05,285.95M422.95,268.05L424.05,266.95M441.95,249.05L443.05,247.95M460.95,230.05L462.05,228.95M479.95,211.05L481.05,209.95M498.95,192.05L500.05,190.95M517.95,173.05L519.05,171.95M536.95,154.05L538.05,152.95M555.95,135.05L557.05,133.95M574.95,116.05L576.05,114.95M593.95,97.05L595.05,95.95M612.95,78.05L614.05,76.95M631.95,59.05L633.05,57.95M650.95,40.05L652.05,38.95M669.95,21.05L671.05,19.95M688.95,2.05L690.05,0.95M707.95,-16.95L709.05,-18.05M726.95,-35.95L728.05,-37.05M745.95,-54.95L747.05,-56.05M33.45,695.55L34.55,694.45M52.45,676.55L53.55,675.45M71.45,657.55L72.55,656.45M90.45,638.55L91.55,637.45M109.45,619.55L110.55,618.45M128.45,600.55L129.55,599.45M147.45,581.55L148.55,580.45M166.45,562.55L167.55,561.45M185.45,543.55L186.55,542.45M204.45,524.55L205.55,523.45M223.45,505.55L224.55,504.45M242.45,486.55L243.55,485.45M261.45,467.55L262.55,466.45M280.45,448.55L281.55,447.45M299.45,429.55L300.55,428.45M318.45,410.55L319.55,409.45M337.45,391.55L338.55,390.45M356.45,372.55L357.55,371.45M375.45,353.55L376.55,352.45M394.45,334.55L395.55,333.45M413.45,315.55L414.55,314.45M432.45,296.55L433.55,295.45M451.45,277.55L452.55,276.45M470.45,258.55L471.55,257.45M489.45,239.55L490.55,238.45M508.45,220.55L509.55,219.45M527.45,201.55L528.55,200.45M546.45,182.55L547.55,181.45M565.45,163.55L566.55,162.45M584.45,144.55L585.55,143.45M603.45,125.55L604.55,124.45M622.45,106.55L623.55,105.45M641.45,87.55L642.55,86.45M660.45,68.55L661.55,67.45M679.45,49.55L680.55,48.45M698.45,30.55L699.55,29.45M717.45,11.55L718.55,10.45M736.45,-7.45L737.55,-8.55M755.45,-26.45L756.55,-27.55M23.95,743.05L25.05,741.95M42.95,724.05L44.05,722.95M61.95,705.05L63.05,703.95M80.95,686.05L82.05,684.95M99.95,667.05L101.05,665.95M118.95,648.05L120.05,646.95M137.95,629.05L139.05,627.95M156.95,610.05L158.05,608.95M175.95,591.05L177.05,589.95M194.95,572.05L196.05,570.95M213.95,553.05L215.05,551.95M232.95,534.05L234.05,532.95M251.95,515.05L253.05,513.95M270.95,496.05L272.05,494.95M289.95,477.05L291.05,475.95M308.95,458.05L310.05,456.95M327.95,439.05L329.05,437.95M346.95,420.05L348.05,418.95M365.95,401.05L367.05,399.95M384.95,382.05L386.05,380.95M403.95,363.05L405.05,361.95M422.95,344.05L424.05,342.95M441.95,325.05L443.05,323.95M460.95,306.05L462.05,304.95M479.95,287.05L481.05,285.95M498.95,268.05L500.05,266.95M517.95,249.05L519.05,247.95M536.95,230.05L538.05,228.95M555.95,211.05L557.05,209.95M574.95,192.05L576.05,190.95M593.95,173.05L595.05,171.95M612.95,154.05L614.05,152.95M631.95,135.05L633.05,133.95M650.95,116.05L652.05,114.95M669.95,97.05L671.05,95.95M688.95,78.05L690.05,76.95M707.95,59.05L709.05,57.95M726.95,40.05L728.05,38.95M745.95,21.05L747.05,19.95M33.45,771.55L34.55,770.45M52.45,752.55L53.55,751.45M71.45,733.55L72.55,732.45M90.45,714.55L91.55,713.45M109.45,695.55L110.55,694.45M128.45,676.55L129.55,675.45M147.45,657.55L148.55,656.45M166.45,638.55L167.55,637.45M185.45,619.55L186.55,618.45M204.45,600.55L205.55,599.45M223.45,581.55L224.55,580.45M242.45,562.55L243.55,561.45M261.45,543.55L262.55,542.45M280.45,524.55L281.55,523.45M299.45,505.55L300.55,504.45M318.45,486.55L319.55,485.45M337.45,467.55L338.55,466.45M356.45,448.55L357.55,447.45M375.45,429.55L376.55,428.45M394.45,410.55L395.55,409.45M413.45,391.55L414.55,390.45M432.45,372.55L433.55,371.45M451.45,353.55L452.55,352.45M470.45,334.55L471.55,333.45M489.45,315.55L490.55,314.45M508.45,296.55L509.55,295.45M527.45,277.55L528.55,276.45M546.45,258.55L547.55,257.45M565.45,239.55L566.55,238.45M584.45,220.55L585.55,219.45M603.45,201.55L604.55,200.45M622.45,182.55L623.55,181.45M641.45,163.55L642.55,162.45M660.45,144.55L661.55,143.45M679.45,125.55L680.55,124.45M698.45,106.55L699.55,105.45M717.45,87.55L718.55,86.45M736.45,68.55L737.55,67.45M755.45,49.55L756.55,48.45M23.95,819.05L25.05,817.95M42.95,800.05L44.05,798.95M61.95,781.05L63.05,779.95M80.95,762.05L82.05,760.95M99.95,743.05L101.05,741.95M118.95,724.05L120.05,722.95M137.95,705.05L139.05,703.95M156.95,686.05L158.05,684.95M175.95,667.05L177.05,665.95M194.95,648.05L196.05,646.95M213.95,629.05L215.05,627.95M232.95,610.05L234.05,608.95M251.95,591.05L253.05,589.95M270.95,572.05L272.05,570.95M289.95,553.05L291.05,551.95M308.95,534.05L310.05,532.95M327.95,515.05L329.05,513.95M346.95,496.05L348.05,494.95M365.95,477.05L367.05,475.95M384.95,458.05L386.05,456.95M403.95,439.05L405.05,437.95M422.95,420.05L424.05,418.95M441.95,401.05L443.05,399.95M460.95,382.05L462.05,380.95M479.95,363.05L481.05,361.95M498.95,344.05L500.05,342.95M517.95,325.05L519.05,323.95M536.95,306.05L538.05,304.95M555.95,287.05L557.05,285.95M574.95,268.05L576.05,266.95M593.95,249.05L595.05,247.95M612.95,230.05L614.05,228.95M631.95,211.05L633.05,209.95M650.95,192.05L652.05,190.95M669.95,173.05L671.05,171.95M688.95,154.05L690.05,152.95M707.95,135.05L709.05,133.95M726.95,116.05L728.05,114.95M745.95,97.05L747.05,95.95M33.45,847.55L34.55,846.45M52.45,828.55L53.55,827.45M71.45,809.55L72.55,808.45M90.45,790.55L91.55,789.45M109.45,771.55L110.55,770.45M128.45,752.55L129.55,751.45M147.45,733.55L148.55,732.45M166.45,714.55L167.55,713.45M185.45,695.55L186.55,694.45M204.45,676.55L205.55,675.45M223.45,657.55L224.55,656.45M242.45,638.55L243.55,637.45M261.45,619.55L262.55,618.45M280.45,600.55L281.55,599.45M299.45,581.55L300.55,580.45M318.45,562.55L319.55,561.45M337.45,543.55L338.55,542.45M356.45,524.55L357.55,523.45M375.45,505.55L376.55,504.45M394.45,486.55L395.55,485.45M413.45,467.55L414.55,466.45M432.45,448.55L433.55,447.45M451.45,429.55L452.55,428.45M470.45,410.55L471.55,409.45M489.45,391.55L490.55,390.45M508.45,372.55L509.55,371.45M527.45,353.55L528.55,352.45M546.45,334.55L547.55,333.45M565.45,315.55L566.55,314.45M584.45,296.55L585.55,295.45M603.45,277.55L604.55,276.45M622.45,258.55L623.55,257.45M641.45,239.55L642.55,238.45M660.45,220.55L661.55,219.45M679.45,201.55L680.55,200.45M698.45,182.55L699.55,181.45M717.45,163.55L718.55,162.45M736.45,144.55L737.55,143.45M755.45,125.55L756.55,124.45M23.95,895.05L25.05,893.95M42.95,876.05L44.05,874.95M61.95,857.05L63.05,855.95M80.95,838.05L82.05,836.95M99.95,819.05L101.05,817.95M118.95,800.05L120.05,798.95M137.95,781.05L139.05,779.95M156.95,762.05L158.05,760.95M175.95,743.05L177.05,741.95M194.95,724.05L196.05,722.95M213.95,705.05L215.05,703.95M232.95,686.05L234.05,684.95M251.95,667.05L253.05,665.95M270.95,648.05L272.05,646.95M289.95,629.05L291.05,627.95M308.95,610.05L310.05,608.95M327.95,591.05L329.05,589.95M346.95,572.05L348.05,570.95M365.95,553.05L367.05,551.95M384.95,534.05L386.05,532.95M403.95,515.05L405.05,513.95M422.95,496.05L424.05,494.95M441.95,477.05L443.05,475.95M460.95,458.05L462.05,456.95M479.95,439.05L481.05,437.95M498.95,420.05L500.05,418.95M517.95,401.05L519.05,399.95M536.95,382.05L538.05,380.95M555.95,363.05L557.05,361.95M574.95,344.05L576.05,342.95M593.95,325.05L595.05,323.95M612.95,306.05L614.05,304.95M631.95,287.05L633.05,285.95M650.95,268.05L652.05,266.95M669.95,249.05L671.05,247.95M688.95,230.05L690.05,228.95M707.95,211.05L709.05,209.95M726.95,192.05L728.05,190.95M745.95,173.05L747.05,171.95M33.45,923.55L34.55,922.45M52.45,904.55L53.55,903.45M71.45,885.55L72.55,884.45M90.45,866.55L91.55,865.45M109.45,847.55L110.55,846.45M128.45,828.55L129.55,827.45M147.45,809.55L148.55,808.45M166.45,790.55L167.55,789.45M185.45,771.55L186.55,770.45M204.45,752.55L205.55,751.45M223.45,733.55L224.55,732.45M242.45,714.55L243.55,713.45M261.45,695.55L262.55,694.45M280.45,676.55L281.55,675.45M299.45,657.55L300.55,656.45M318.45,638.55L319.55,637.45M337.45,619.55L338.55,618.45M356.45,600.55L357.55,599.45M375.45,581.55L376.55,580.45M394.45,562.55L395.55,561.45M413.45,543.55L414.55,542.45M432.45,524.55L433.55,523.45M451.45,505.55L452.55,504.45M470.45,486.55L471.55,485.45M489.45,467.55L490.55,466.45M508.45,448.55L509.55,447.45M527.45,429.55L528.55,428.45M546.45,410.55L547.55,409.45M565.45,391.55L566.55,390.45M584.45,372.55L585.55,371.45M603.45,353.55L604.55,352.45M622.45,334.55L623.55,333.45M641.45,315.55L642.55,314.45M660.45,296.55L661.55,295.45M679.45,277.55L680.55,276.45M698.45,258.55L699.55,257.45M717.45,239.55L718.55,238.45M736.45,220.55L737.55,219.45M755.45,201.55L756.55,200.45M23.95,971.05L25.05,969.95M42.95,952.05L44.05,950.95M61.95,933.05L63.05,931.95M80.95,914.05L82.05,912.95M99.95,895.05L101.05,893.95M118.95,876.05L120.05,874.95M137.95,857.05L139.05,855.95M156.95,838.05L158.05,836.95M175.95,819.05L177.05,817.95M194.95,800.05L196.05,798.95M213.95,781.05L215.05,779.95M232.95,762.05L234.05,760.95M251.95,743.05L253.05,741.95M270.95,724.05L272.05,722.95M289.95,705.05L291.05,703.95M308.95,686.05L310.05,684.95M327.95,667.05L329.05,665.95M346.95,648.05L348.05,646.95M365.95,629.05L367.05,627.95M384.95,610.05L386.05,608.95M403.95,591.05L405.05,589.95M422.95,572.05L424.05,570.95M441.95,553.05L443.05,551.95M460.95,534.05L462.05,532.95M479.95,515.05L481.05,513.95M498.95,496.05L500.05,494.95M517.95,477.05L519.05,475.95M536.95,458.05L538.05,456.95M555.95,439.05L557.05,437.95M574.95,420.05L576.05,418.95M593.95,401.05L595.05,399.95M612.95,382.05L614.05,380.95M631.95,363.05L633.05,361.95M650.95,344.05L652.05,342.95M669.95,325.05L671.05,323.95M688.95,306.05L690.05,304.95M707.95,287.05L709.05,285.95M726.95,268.05L728.05,266.95M745.95,249.05L747.05,247.95M33.45,999.55L34.55,998.45M52.45,980.55L53.55,979.45M71.45,961.55L72.55,960.45M90.45,942.55L91.55,941.45M109.45,923.55L110.55,922.45M128.45,904.55L129.55,903.45M147.45,885.55L148.55,884.45M166.45,866.55L167.55,865.45M185.45,847.55L186.55,846.45M204.45,828.55L205.55,827.45M223.45,809.55L224.55,808.45M242.45,790.55L243.55,789.45M261.45,771.55L262.55,770.45M280.45,752.55L281.55,751.45M299.45,733.55L300.55,732.45M318.45,714.55L319.55,713.45M337.45,695.55L338.55,694.45M356.45,676.55L357.55,675.45M375.45,657.55L376.55,656.45M394.45,638.55L395.55,637.45M413.45,619.55L414.55,618.45M432.45,600.55L433.55,599.45M451.45,581.55L452.55,580.45M470.45,562.55L471.55,561.45M489.45,543.55L490.55,542.45M508.45,524.55L509.55,523.45M527.45,505.55L528.55,504.45M546.45,486.55L547.55,485.45M565.45,467.55L566.55,466.45M584.45,448.55L585.55,447.45M603.45,429.55L604.55,428.45M622.45,410.55L623.55,409.45M641.45,391.55L642.55,390.45M660.45,372.55L661.55,371.45M679.45,353.55L680.55,352.45M698.45,334.55L699.55,333.45M717.45,315.55L718.55,314.45M736.45,296.55L737.55,295.45M755.45,277.55L756.55,276.45M23.95,1047.05L25.05,1045.95M42.95,1028.05L44.05,1026.95M61.95,1009.05L63.05,1007.95M80.95,990.05L82.05,988.95M99.95,971.05L101.05,969.95M118.95,952.05L120.05,950.95M137.95,933.05L139.05,931.95M156.95,914.05L158.05,912.95M175.95,895.05L177.05,893.95M194.95,876.05L196.05,874.95M213.95,857.05L215.05,855.95M232.95,838.05L234.05,836.95M251.95,819.05L253.05,817.95M270.95,800.05L272.05,798.95M289.95,781.05L291.05,779.95M308.95,762.05L310.05,760.95M327.95,743.05L329.05,741.95M346.95,724.05L348.05,722.95M365.95,705.05L367.05,703.95M384.95,686.05L386.05,684.95M403.95,667.05L405.05,665.95M422.95,648.05L424.05,646.95M441.95,629.05L443.05,627.95M460.95,610.05L462.05,608.95M479.95,591.05L481.05,589.95M498.95,572.05L500.05,570.95M517.95,553.05L519.05,551.95M536.95,534.05L538.05,532.95M555.95,515.05L557.05,513.95M574.95,496.05L576.05,494.95M593.95,477.05L595.05,475.95M612.95,458.05L614.05,456.95M631.95,439.05L633.05,437.95M650.95,420.05L652.05,418.95M669.95,401.05L671.05,399.95M688.95,382.05L690.05,380.95M707.95,363.05L709.05,361.95M726.95,344.05L728.05,342.95M745.95,325.05L747.05,323.95M33.45,1075.55L34.55,1074.45M52.45,1056.55L53.55,1055.45M71.45,1037.55L72.55,1036.45M90.45,1018.55L91.55,1017.45M109.45,999.55L110.55,998.45M128.45,980.55L129.55,979.45M147.45,961.55L148.55,960.45M166.45,942.55L167.55,941.45M185.45,923.55L186.55,922.45M204.45,904.55L205.55,903.45M223.45,885.55L224.55,884.45M242.45,866.55L243.55,865.45M261.45,847.55L262.55,846.45M280.45,828.55L281.55,827.45M299.45,809.55L300.55,808.45M318.45,790.55L319.55,789.45M337.45,771.55L338.55,770.45M356.45,752.55L357.55,751.45M375.45,733.55L376.55,732.45M394.45,714.55L395.55,713.45M413.45,695.55L414.55,694.45M432.45,676.55L433.55,675.45M451.45,657.55L452.55,656.45M470.45,638.55L471.55,637.45M489.45,619.55L490.55,618.45M508.45,600.55L509.55,599.45M527.45,581.55L528.55,580.45M546.45,562.55L547.55,561.45M565.45,543.55L566.55,542.45M584.45,524.55L585.55,523.45M603.45,505.55L604.55,504.45M622.45,486.55L623.55,485.45M641.45,467.55L642.55,466.45M660.45,448.55L661.55,447.45M679.45,429.55L680.55,428.45M698.45,410.55L699.55,409.45M717.45,391.55L718.55,390.45M736.45,372.55L737.55,371.45M755.45,353.55L756.55,352.45M23.95,1123.05L25.05,1121.95M42.95,1104.05L44.05,1102.95M61.95,1085.05L63.05,1083.95M80.95,1066.05L82.05,1064.95M99.95,1047.05L101.05,1045.95M118.95,1028.05L120.05,1026.95M137.95,1009.05L139.05,1007.95M156.95,990.05L158.05,988.95M175.95,971.05L177.05,969.95M194.95,952.05L196.05,950.95M213.95,933.05L215.05,931.95M232.95,914.05L234.05,912.95M251.95,895.05L253.05,893.95M270.95,876.05L272.05,874.95M289.95,857.05L291.05,855.95M308.95,838.05L310.05,836.95M327.95,819.05L329.05,817.95M346.95,800.05L348.05,798.95M365.95,781.05L367.05,779.95M384.95,762.05L386.05,760.95M403.95,743.05L405.05,741.95M422.95,724.05L424.05,722.95M441.95,705.05L443.05,703.95M460.95,686.05L462.05,684.95M479.95,667.05L481.05,665.95M498.95,648.05L500.05,646.95M517.95,629.05L519.05,627.95M536.95,610.05L538.05,608.95M555.95,591.05L557.05,589.95M574.95,572.05L576.05,570.95M593.95,553.05L595.05,551.95M612.95,534.05L614.05,532.95M631.95,515.05L633.05,513.95M650.95,496.05L652.05,494.95M669.95,477.05L671.05,475.95M688.95,458.05L690.05,456.95M707.95,439.05L709.05,437.95M726.95,420.05L728.05,418.95M745.95,401.05L747.05,399.95M33.45,1151.55L34.55,1150.45M52.45,1132.55L53.55,1131.45M71.45,1113.55L72.55,1112.45M90.45,1094.55L91.55,1093.45M109.45,1075.55L110.55,1074.45M128.45,1056.55L129.55,1055.45M147.45,1037.55L148.55,1036.45M166.45,1018.55L167.55,1017.45M185.45,999.55L186.55,998.45M204.45,980.55L205.55,979.45M223.45,961.55L224.55,960.45M242.45,942.55L243.55,941.45M261.45,923.55L262.55,922.45M280.45,904.55L281.55,903.45M299.45,885.55L300.55,884.45M318.45,866.55L319.55,865.45M337.45,847.55L338.55,846.45M356.45,828.55L357.55,827.45M375.45,809.55L376.55,808.45M394.45,790.55L395.55,789.45M413.45,771.55L414.55,770.45M432.45,752.55L433.55,751.45M451.45,733.55L452.55,732.45M470.45,714.55L471.55,713.45M489.45,695.55L490.55,694.45M508.45,676.55L509.55,675.45M527.45,657.55L528.55,656.45M546.45,638.55L547.55,637.45M565.45,619.55L566.55,618.45M584.45,600.55L585.55,599.45M603.45,581.55L604.55,580.45M622.45,562.55L623.55,561.45M641.45,543.55L642.55,542.45M660.45,524.55L661.55,523.45M679.45,505.55L680.55,504.45M698.45,486.55L699.55,485.45M717.45,467.55L718.55,466.45M736.45,448.55L737.55,447.45M755.45,429.55L756.55,428.45M23.95,1199.05L25.05,1197.95M42.95,1180.05L44.05,1178.95M61.95,1161.05L63.05,1159.95M80.95,1142.05L82.05,1140.95M99.95,1123.05L101.05,1121.95M118.95,1104.05L120.05,1102.95M137.95,1085.05L139.05,1083.95M156.95,1066.05L158.05,1064.95M175.95,1047.05L177.05,1045.95M194.95,1028.05L196.05,1026.95M213.95,1009.05L215.05,1007.95M232.95,990.05L234.05,988.95M251.95,971.05L253.05,969.95M270.95,952.05L272.05,950.95M289.95,933.05L291.05,931.95M308.95,914.05L310.05,912.95M327.95,895.05L329.05,893.95M346.95,876.05L348.05,874.95M365.95,857.05L367.05,855.95M384.95,838.05L386.05,836.95M403.95,819.05L405.05,817.95M422.95,800.05L424.05,798.95M441.95,781.05L443.05,779.95M460.95,762.05L462.05,760.95M479.95,743.05L481.05,741.95M498.95,724.05L500.05,722.95M517.95,705.05L519.05,703.95M536.95,686.05L538.05,684.95M555.95,667.05L557.05,665.95M574.95,648.05L576.05,646.95M593.95,629.05L595.05,627.95M612.95,610.05L614.05,608.95M631.95,591.05L633.05,589.95M650.95,572.05L652.05,570.95M669.95,553.05L671.05,551.95M688.95,534.05L690.05,532.95M707.95,515.05L709.05,513.95M726.95,496.05L728.05,494.95M745.95,477.05L747.05,475.95" stroke-width="1.6" stroke="#333"/></g>
<path d="M36,706H8.7V86H794V706H781" fill="none" stroke="#a2a2a2" stroke-width="1.9"/>
<path d="M39,357.2H127.7" stroke="#777" stroke-width="1.5"/>
<path d="M401.5,357.2H722" stroke="#777" stroke-width="1.5"/>
<path d="M127.7,356.5V637.7" stroke="#333" stroke-width="1.5"/>
<path d="M127.7,637.6H401.5" stroke="#555" stroke-width="1.5"/>
<path d="M401.5,357.2V638.3" stroke="#9c9c9c" stroke-width="1.8"/>
<path d="M127.7,498H258.4M271.6,498H401" stroke="#111" stroke-width="2.3"/>
<path d="M312.5,476.2H337.5L325,497Z" fill="none" stroke="#222" stroke-width="1.3"/>
<path d="M196,306.5H284.7M196,306.5V497" stroke="#1a1a1a" stroke-width="1.2"/>
<path d="M196,306.5L193.6,322.5H198.4Z M196,497.5L193.8,481H198.2Z" fill="#1a1a1a"/>
<path d="M258.4,318.7V508.8 M271.6,318.7V508.8" stroke="#111" stroke-width="2.4"/>
<path d="M276.9,299H407 M276.9,312.4H407" stroke="#111" stroke-width="2.2"/>
<path d="M258.4,318.7A18.5,19.7 0 0 1 276.9,299 M271.6,318.7A5.3,6.5 0 0 1 276.9,312.2" fill="none" stroke="#555" stroke-width="1.3"/>
<path d="M264.5,318.7V508" stroke="#222" stroke-width="1.2" stroke-dasharray="6 2 1.2 2"/>
<path d="M264.5,318.7A12.4,12.2 0 0 1 276.9,306.5" fill="none" stroke="#444" stroke-width="1.2" stroke-dasharray="3 2"/>
<path d="M284.7,306.5H406" stroke="#222" stroke-width="1.2" stroke-dasharray="6 2 1.2 2"/>
<rect x="252.6" y="509.9" width="24.2" height="24.2" fill="#fff" stroke="#111" stroke-width="1.8"/>
<path d="M252,509.3L277.6,534.5V535.5H251.7V509.3Z" fill="#111"/>
<path d="M264.5,509V520.6" stroke="#333" stroke-width="1.1" stroke-dasharray="5 1.5 1 1.5"/>
<rect x="250.5" y="536.6" width="27.1" height="24.6" fill="#9a9a9a"/>
<rect x="250.5" y="536.6" width="3" height="24.6" fill="#888"/>
<rect x="275.9" y="536.6" width="1.9" height="24.6" fill="#1a1a1a"/>
<rect x="254.4" y="536.6" width="1.3" height="24.6" fill="#fff"/>
<rect x="261.6" y="536.6" width="1.3" height="24.6" fill="#fff"/>
<rect x="268.7" y="536.6" width="1.3" height="24.6" fill="#fff"/>
<rect x="256.8" y="538.6" width="3" height="20.6" fill="#fff"/>
<rect x="264.0" y="538.6" width="3" height="20.6" fill="#fff"/>
<rect x="271.1" y="538.6" width="3" height="20.6" fill="#fff"/>
<rect x="250.5" y="535.2" width="27.1" height="1.4" fill="#fff"/>
<path d="M426.5,164V187.5 M440.5,164V187.5" stroke="#111" stroke-width="2.3"/>
<path d="M426.5,187.5H440.5 M426.5,187.5V200 M440.5,187.5V200" stroke="#7a7a7a" stroke-width="1.2"/>
<path d="M426.5,164A19.5,19.5 0 0 1 446,144.5 M440.5,164A5.5,5.5 0 0 1 446,158.7" fill="none" stroke="#444" stroke-width="1.3"/>
<path d="M446,144.5H757" stroke="#222" stroke-width="1.5"/>
<path d="M446,158.8H757" stroke="#111" stroke-width="2.2"/>
<path d="M757,144.8L755.4,149.5L758.6,155L757.2,158.6" fill="none" stroke="#666" stroke-width="1.1"/>
<path d="M446,151.5H769" stroke="#222" stroke-width="1.2" stroke-dasharray="6 2 1.2 2"/>
<path d="M432.6,164A13.4,12.5 0 0 1 446,151.5" fill="none" stroke="#444" stroke-width="1.2" stroke-dasharray="3 2"/>
<path d="M432.6,164V323.6" stroke="#222" stroke-width="1.1" stroke-dasharray="5 1.5 1 1.5"/>
<rect x="466.8" y="135.2" width="11.8" height="33.3" fill="#fff" stroke="#5a5a5a" stroke-width="1.1"/>
<path d="M472.7,135.2V168.5" stroke="#222" stroke-width="1.5"/>
<path d="M466.8,151.5H478.6" stroke="#222" stroke-width="1.1"/>
<rect x="649.4" y="135.2" width="11.8" height="33.3" fill="#fff" stroke="#5a5a5a" stroke-width="1.1"/>
<path d="M655.3,135.2V168.5" stroke="#222" stroke-width="1.5"/>
<path d="M649.4,151.5H661.2" stroke="#222" stroke-width="1.1"/>
<path d="M686,112.4H709L711.5,116.3V118H684V116.3Z" fill="#fff" stroke="#111" stroke-width="1.4"/>
<path d="M689,112H706.6" stroke="#111" stroke-width="2.2"/>
<rect x="684" y="116" width="27.5" height="2.6" fill="#111"/>
<path d="M697.6,112V118" stroke="#111" stroke-width="1.2"/>
<rect x="694.4" y="118" width="5.9" height="5.8" fill="#111"/>
<rect x="697" y="119.5" width="1" height="3" fill="#fff"/>
<rect x="691.3" y="124.2" width="12.6" height="5.8" rx="1.8" fill="#fff" stroke="#111" stroke-width="2"/>
<path d="M694,126.2L697.4,127.2L701,126.2V128.2L697.4,127.2L694,128.2Z" fill="#111"/>
<rect x="693" y="130.4" width="8.6" height="4.6" fill="#111"/>
<rect x="695" y="131.2" width="1.4" height="3" fill="#fff"/><rect x="698.6" y="131.2" width="1.4" height="3" fill="#fff"/>
<rect x="691.7" y="134.5" width="11.7" height="1.8" fill="#111"/>
<rect x="687.9" y="136" width="19.6" height="4.2" fill="#111"/>
<rect x="690.5" y="137.6" width="14.5" height="1.2" fill="#fff"/>
<rect x="684.6" y="143.2" width="2.6" height="16.4" fill="#fff" stroke="#222" stroke-width="1.3"/>
<rect x="708.6" y="143.2" width="2.6" height="16.4" fill="#fff" stroke="#222" stroke-width="1.3"/>
<rect x="687.6" y="140.6" width="20.4" height="22.6" rx="1.5" fill="#fff" stroke="#111" stroke-width="2.4"/>
<path d="M691.2,142Q692.8,151.5 691.2,161 M704.4,142Q702.8,151.5 704.4,161" fill="none" stroke="#666" stroke-width="1.4"/>
<path d="M697.6,141.5V161" stroke="#111" stroke-width="1.3"/>
<path d="M693,161H702.5" stroke="#111" stroke-width="1.6"/>
<path d="M689,147H692M703.5,147H706.5M689,156.5H692M703.5,156.5H706.5" stroke="#222" stroke-width="1.2"/>
<path d="M681,151.4H693.5M697.6,151.4H704.5M709,151.4H714" stroke="#222" stroke-width="1.1"/>
<path d="M426,283V295.7 M440,283V295.7" stroke="#8a8a8a" stroke-width="1.2"/>
<path d="M433,199.5C424,199.5 416,202.5 411.8,207.5C409.8,210 408.6,212.5 408.1,215.5C406.3,224 405.6,233 405.6,241C405.6,249 406.3,258 408.1,266.5C408.6,269.5 409.8,272 411.8,274.5C416,279.5 424,283.2 433,283.2C442,283.2 450,279.5 454.2,274.5C456.2,272 457.4,269.5 457.9,266.5C459.7,258 460.4,249 460.4,241C460.4,233 459.7,224 457.9,215.5C457.4,212.5 456.2,210 454.2,207.5C450,202.5 442,199.5 433,199.5Z" fill="#fff" stroke="#4a4a4a" stroke-width="1.3"/>
<path d="M432.6,200V283" stroke="#111" stroke-width="1.2" stroke-dasharray="9 1.6 1 1.6"/>
<rect x="412.2" y="296.4" width="36.7" height="55" rx="1.5" fill="#fff" stroke="#1a1a1a" stroke-width="1.3"/>
<path d="M413,296.2H449" stroke="#111" stroke-width="2"/>
<path d="M414.7,298V350" stroke="#999" stroke-width="1"/>
<rect x="409" y="298" width="2.6" height="44.5" fill="#111"/>
<path d="M410,342.5V347.7" stroke="#555" stroke-width="1.3"/>
<rect x="406.8" y="298" width="3.5" height="15" fill="#111"/>
<rect x="407.9" y="300.6" width="1.3" height="4" fill="#fff"/><rect x="407.9" y="307" width="1.3" height="4" fill="#fff"/>
<path d="M432.6,297.5V323.6" stroke="#222" stroke-width="1.1" stroke-dasharray="9 1.6 1 1.6"/>
<path d="M413,323.7H449" stroke="#222" stroke-width="1.2" stroke-dasharray="9 2"/>
<rect x="448.9" y="292.6" width="2.5" height="61.8" fill="#fff" stroke="#222" stroke-width="1.1"/>
<rect x="451.4" y="290" width="4" height="68.6" fill="#111"/>
<rect x="455.4" y="293" width="2.7" height="62" fill="#fff" stroke="#333" stroke-width="1.1"/>
<rect x="451" y="352" width="8" height="6.6" fill="#111"/>
<rect x="466.9" y="281.1" width="31.9" height="13.9" fill="#fff" stroke="#111" stroke-width="1.6"/>
<path d="M512.3,294.8H517.5L522.2,300.8V346.6L517.5,352.6H512.3" fill="#fff" stroke="#1a1a1a" stroke-width="1.5"/>
<rect x="459" y="295" width="53.3" height="57.5" fill="#fff" stroke="#111" stroke-width="2.2"/>
<path d="M459,305.4H512.3 M459,315.1H512.3 M459,332.4H512.3" stroke="#111" stroke-width="2"/>
<path d="M459,342.2H512.3" stroke="#111" stroke-width="1.4"/>
<path d="M449,323.7H523" stroke="#222" stroke-width="1.2" stroke-dasharray="6 2.5"/>
<g font-family="Liberation Sans" fill="#222" stroke="#222" stroke-width="0.35">
<text x="342.3" y="249.7" font-size="23.5" textLength="42.2" lengthAdjust="spacingAndGlyphs">Brio</text>
<text x="533.5" y="330.8" font-size="23.5" textLength="41" lengthAdjust="spacingAndGlyphs">BWJ</text>
<text x="208.5" y="592.2" font-size="23" textLength="107.3" lengthAdjust="spacingAndGlyphs">Sací koš se</text>
<text x="180.5" y="619.6" font-size="23" textLength="163.3" lengthAdjust="spacingAndGlyphs">zpětnou klapkou</text>
<text transform="translate(186,466) rotate(-90)" font-size="30" textLength="125.5" lengthAdjust="spacingAndGlyphs">max. 7 m</text>
</g>
</svg>

</body></html>
